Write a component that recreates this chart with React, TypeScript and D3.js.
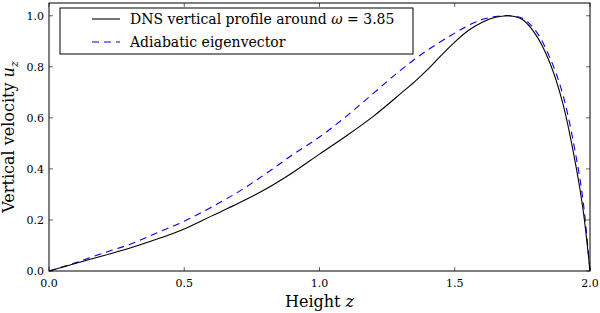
import React from 'react';
import * as d3 from 'd3';

// heights z and the two vertical velocity profiles
const dnsZ = [0, 0.1, 0.2, 0.3, 0.4, 0.5, 0.6, 0.7, 0.8, 0.9, 1.0, 1.1, 1.2, 1.3, 1.35, 1.4, 1.45, 1.5, 1.55, 1.6, 1.65, 1.7, 1.75, 1.8, 1.85, 1.9, 1.95, 1.975, 2.0];
const dnsU = [0, 0.03, 0.06, 0.09, 0.125, 0.165, 0.215, 0.265, 0.32, 0.385, 0.458, 0.53, 0.607, 0.695, 0.74, 0.79, 0.845, 0.897, 0.942, 0.974, 0.994, 1.0, 0.985, 0.925, 0.82, 0.655, 0.4, 0.235, 0];

const eigZ = [0, 0.1, 0.2, 0.3, 0.4, 0.5, 0.6, 0.7, 0.8, 0.9, 1.0, 1.1, 1.2, 1.3, 1.4, 1.5, 1.55, 1.6, 1.65, 1.7, 1.75, 1.8, 1.85, 1.9, 1.95, 1.975, 2.0];
const eigU = [0, 0.033, 0.07, 0.105, 0.15, 0.195, 0.25, 0.31, 0.38, 0.455, 0.525, 0.607, 0.697, 0.787, 0.866, 0.932, 0.962, 0.985, 0.997, 1.0, 0.99, 0.94, 0.84, 0.69, 0.44, 0.27, 0];

const xTicks = [0, 0.5, 1.0, 1.5, 2.0];
const yTicks = [0, 0.2, 0.4, 0.6, 0.8, 1.0];

const W = 600;
const H = 313;
const margin = { top: 3, right: 10, bottom: 42, left: 49 };
const FONT = "'DejaVu Serif', 'Liberation Serif', serif";

export default function App() {
  const w = W - margin.left - margin.right;
  const h = H - margin.top - margin.bottom;
  const x = d3.scaleLinear().domain([0, 2]).range([0, w]);
  const y = d3.scaleLinear().domain([0, 1.05]).range([h, 0]);

  const line = d3
    .line<[number, number]>()
    .x((d) => x(d[0]))
    .y((d) => y(d[1]))
    .curve(d3.curveCatmullRom.alpha(0.5));

  const dns = line(dnsZ.map((z, i) => [z, dnsU[i]]) as [number, number][]) ?? '';
  const eig = line(eigZ.map((z, i) => [z, eigU[i]]) as [number, number][]) ?? '';
  const tl = 4;

  return (
    <svg width={W} height={H} style={{ position: 'absolute', left: 0, top: 0, background: '#fff', fontFamily: FONT }}>
      <rect width={W} height={H} fill="#fff" />
      <g transform={`translate(${margin.left},${margin.top})`}>
        <path d={eig} fill="none" stroke="#0000ee" strokeWidth={1.1} strokeDasharray="7,5" />
        <path d={dns} fill="none" stroke="#000" strokeWidth={1.1} />

        {/* frame */}
        <rect x={0} y={0} width={w} height={h} fill="none" stroke="#000" strokeWidth={1} />

        {xTicks.map((t) => (
          <g key={'x' + t}>
            <line x1={x(t)} x2={x(t)} y1={h} y2={h - tl} stroke="#000" strokeWidth={0.6} />
            <line x1={x(t)} x2={x(t)} y1={0} y2={tl} stroke="#000" strokeWidth={0.6} />
            <text x={x(t)} y={h + 16} textAnchor="middle" fontSize={11}>
              {t.toFixed(1)}
            </text>
          </g>
        ))}
        {yTicks.map((t) => (
          <g key={'y' + t}>
            <line x1={0} x2={tl} y1={y(t)} y2={y(t)} stroke="#000" strokeWidth={0.6} />
            <line x1={w} x2={w - tl} y1={y(t)} y2={y(t)} stroke="#000" strokeWidth={0.6} />
            <text x={-5} y={y(t)} dy="0.35em" textAnchor="end" fontSize={11}>
              {t.toFixed(1)}
            </text>
          </g>
        ))}

        <text x={w / 2} y={h + 36} textAnchor="middle" fontSize={16}>
          Height <tspan fontStyle="italic">z</tspan>
        </text>
        <text transform={`translate(${-35},${h / 2}) rotate(-90)`} textAnchor="middle" fontSize={16}>
          Vertical velocity <tspan fontStyle="italic">u</tspan>
          <tspan fontStyle="italic" fontSize={11} dy={4}>z</tspan>
        </text>

        {/* legend */}
        <g transform="translate(11,5)">
          <rect x={0} y={0} width={353} height={46} fill="#fff" stroke="#000" strokeWidth={1} />
          <line x1={32} x2={60} y1={11} y2={11} stroke="#000" strokeWidth={1.1} />
          <text x={70} y={11} dy="0.35em" fontSize={14}>
            DNS vertical profile around <tspan fontStyle="italic">ω</tspan> = 3.85
          </text>
          <line x1={32} x2={60} y1={34} y2={34} stroke="#0000ee" strokeWidth={1.1} strokeDasharray="7,5" />
          <text x={70} y={34} dy="0.35em" fontSize={14}>
            Adiabatic eigenvector
          </text>
        </g>
      </g>
    </svg>
  );
}
